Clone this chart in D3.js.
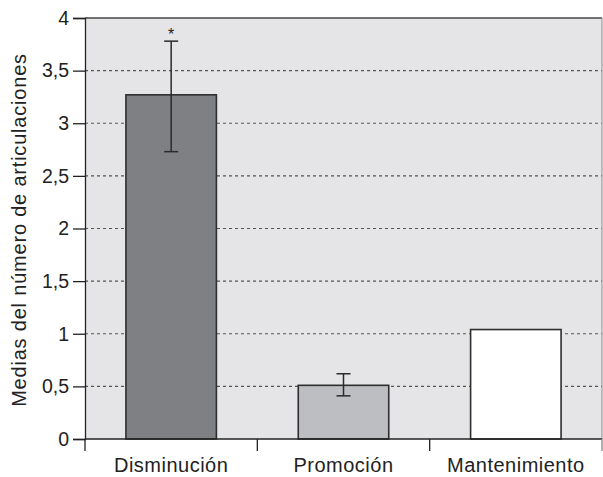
<!DOCTYPE html>
<html>
<head>
<meta charset="utf-8">
<script src="https://cdn.jsdelivr.net/npm/d3@7"></script>
<style>
  html, body { margin: 0; padding: 0; background: #fff; }
  svg { display: block; font-family: "Liberation Sans", Arial, Helvetica, sans-serif; }
</style>
</head>
<body>
<svg id="chart" width="603" height="477"></svg>
<script>
// Mean number of joints per group, with error bars
const categories = ["Disminución", "Promoción", "Mantenimiento"];
const means = [3.27, 0.51, 1.04];
const errLow = [2.73, 0.41, null];
const errHigh = [3.78, 0.62, null];
const significance = ["*", "", ""];
const yTicks = [0, 0.5, 1, 1.5, 2, 2.5, 3, 3.5, 4];
const fills = ["#7f8084", "#bdbec2", "#ffffff"];
const yTitle = "Medias del número de articulaciones";

const svg = d3.select("#chart");
const margin = { top: 18, right: 1, bottom: 38, left: 85 };
const W = 603, H = 477;
const innerW = W - margin.left - margin.right;
const innerH = H - margin.top - margin.bottom;
const FONT = "Liberation Sans, Arial, sans-serif";

const g = svg.append("g").attr("transform", `translate(${margin.left},${margin.top})`);

const x = d3.scaleBand().domain(categories).range([0, innerW]).paddingInner(0.475).paddingOuter(0.2375);
const y = d3.scaleLinear().domain([0, 4]).range([innerH, 0]);

// plot background
g.append("rect").attr("x", 0).attr("y", 0).attr("width", innerW).attr("height", innerH)
  .attr("fill", "#e5e5e7");

// dashed gridlines
g.selectAll("line.grid").data(yTicks.filter(t => t > 0 && t < 4)).join("line")
  .attr("class", "grid")
  .attr("x1", 0).attr("x2", innerW)
  .attr("y1", d => y(d)).attr("y2", d => y(d))
  .attr("stroke", "#555").attr("stroke-width", 1.2).attr("stroke-dasharray", "3,3");

// frame top and right
g.append("line").attr("x1", 0).attr("x2", innerW).attr("y1", 0).attr("y2", 0)
  .attr("stroke", "#444").attr("stroke-width", 1.3);
g.append("line").attr("x1", innerW).attr("x2", innerW).attr("y1", 0).attr("y2", innerH)
  .attr("stroke", "#888").attr("stroke-width", 1);

// bars
g.selectAll("rect.bar").data(categories).join("rect")
  .attr("class", "bar")
  .attr("x", d => x(d))
  .attr("y", (d, i) => y(means[i]))
  .attr("width", x.bandwidth())
  .attr("height", (d, i) => innerH - y(means[i]))
  .attr("fill", (d, i) => fills[i])
  .attr("stroke", "#2e2e2e").attr("stroke-width", 1.6);

// error bars
const cap = 7;
categories.forEach((c, i) => {
  if (errLow[i] == null) return;
  const cx = x(c) + x.bandwidth() / 2;
  const eg = g.append("g").attr("stroke", "#2a2a2a").attr("stroke-width", 1.5);
  eg.append("line").attr("x1", cx).attr("x2", cx).attr("y1", y(errLow[i])).attr("y2", y(errHigh[i]));
  eg.append("line").attr("x1", cx - cap).attr("x2", cx + cap).attr("y1", y(errLow[i])).attr("y2", y(errLow[i]));
  eg.append("line").attr("x1", cx - cap).attr("x2", cx + cap).attr("y1", y(errHigh[i])).attr("y2", y(errHigh[i]));
  if (significance[i]) {
    g.append("text").attr("x", cx).attr("y", y(errHigh[i]) - 1)
      .attr("text-anchor", "middle").attr("font-size", 16).attr("fill", "#222")
      .text(significance[i]);
  }
});

// y axis
const yAxis = d3.axisLeft(y).tickValues(yTicks).tickSize(12).tickPadding(4)
  .tickFormat(d => d3.format("")(d).replace(".", ","));
const ya = g.append("g").call(yAxis);
ya.select(".domain").attr("stroke", "#222").attr("stroke-width", 1.3);
ya.selectAll(".tick line").attr("stroke", "#222").attr("stroke-width", 1.3);
ya.selectAll(".tick text").attr("font-size", 19.5).attr("fill", "#222")
  .attr("font-family", FONT);

// x axis with boundary ticks between categories
const xg = g.append("g").attr("transform", `translate(0,${innerH})`);
xg.append("line").attr("x1", 0).attr("x2", innerW).attr("stroke", "#222").attr("stroke-width", 1.3);
const bounds = d3.range(categories.length + 1).map(k => k * (innerW / categories.length));
xg.selectAll("line.bt").data(bounds).join("line").attr("class", "bt")
  .attr("x1", d => d).attr("x2", d => d).attr("y1", 0).attr("y2", 12)
  .attr("stroke", (d, i) => i === categories.length ? "#888" : "#222").attr("stroke-width", 1.3);
xg.selectAll("text").data(categories).join("text")
  .attr("x", (d, i) => (bounds[i] + bounds[i + 1]) / 2)
  .attr("y", 33)
  .attr("text-anchor", "middle").attr("font-size", 20).attr("letter-spacing", 0.5)
  .attr("fill", "#222")
  .text(d => d);

// y axis title
svg.append("text")
  .attr("transform", `translate(26,${230}) rotate(-90)`)
  .attr("text-anchor", "middle").attr("font-size", 20).attr("letter-spacing", 0.8)
  .attr("fill", "#222")
  .text(yTitle);
</script>
</body>
</html>
